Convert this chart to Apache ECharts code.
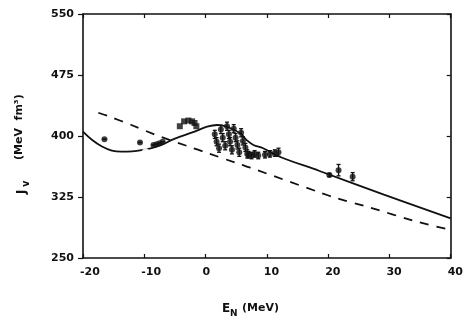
<!DOCTYPE html>
<html><head><meta charset="utf-8">
<script src="https://cdn.jsdelivr.net/npm/echarts@6/dist/echarts.min.js"></script>
<style>html,body{margin:0;padding:0;background:#fff}#c{width:466px;height:323px}</style>
</head><body><div id="c"></div>
<script>
// ---- data ----
const xTicks = [-20, -10, 0, 10, 20, 30, 40];
const yTicks = [250, 325, 400, 475, 550];

const solidX = [-20, -18.5, -16.9, -15.3, -13.7, -12, -10.5, -8.8, -7.2, -5.1, -1.9, 0.25, 1.9, 3.5, 5.7, 6.7, 7.8, 9.4, 12.1, 18.6, 29.1, 40];
const solidY = [405.3, 395, 387, 382, 380.7, 381, 382.7, 385, 389, 396.5, 405, 411.4, 413.5, 411.4, 403, 395, 389, 385, 374.5, 357, 328, 298.8];

const dashX = [-17.5, -15.9, -12.1, -8, -2.2, -0.3, 5.7, 7.3, 18.3, 21.6, 26.4, 34.5, 40];
const dashY = [428.6, 424.6, 413.5, 401, 385.6, 380.7, 365, 361, 331.5, 323, 313, 294.6, 284.4];

// filled circle points
const ptX   = [-16.5, -10.7, -8.5, -8.0, -7.5, -7.0, 1.5, 1.8, 2.2, 2.5, 2.8, 3.2, 3.5, 3.8, 4.0, 4.3, 4.6, 4.9, 5.2, 5.5, 5.8, 6.1, 6.5, 6.8, 7.0, 7.5, 8.0, 8.6, 9.7, 10.5, 11.3, 11.9, 20.2, 21.7, 24.0];
const ptY   = [396, 392, 389, 390, 391, 393, 402, 393, 385, 408, 398, 388, 412, 402, 393, 383, 409, 398, 389, 380, 404, 394, 386, 378, 377, 376, 378, 376, 377, 378, 379, 380, 352, 358, 350];
const ptErr = [0, 0, 0, 0, 0, 0, 5, 5, 5, 5, 5, 5, 5, 5, 5, 5, 5, 5, 5, 5, 5, 5, 5, 5, 4, 4, 4, 4, 4, 4, 4, 5, 2, 7, 5];
// square points
const sqX = [-4.2, -3.5, -2.8, -2.2, -1.8, -1.5];
const sqY = [412, 418, 419, 418, 416, 412];
// open point
const openX = [-9.8];
const openY = [381];

// ---- build ----
const solidData = solidX.map((x, i) => [x, solidY[i]]);
const dashData = dashX.map((x, i) => [x, dashY[i]]);
const ptData = ptX.map((x, i) => [x, ptY[i], ptErr[i]]);
const sqData = sqX.map((x, i) => [x, sqY[i]]);
const openData = openX.map((x, i) => [x, openY[i]]);

const F = 'DejaVu Sans';
const lab = {fontFamily: F, fontWeight: 'bold', fontSize: 11, color: '#111'};
const line = {lineStyle: {color: '#111', width: 1.6}};

const chart = echarts.init(document.getElementById('c'), null, {renderer: 'canvas'});
chart.setOption({
  animation: false,
  backgroundColor: '#fff',
  grid: {left: 83, right: 12, top: 14, bottom: 65},
  xAxis: [
    {type: 'value', min: -20, max: 40, interval: 10, position: 'bottom',
     axisLine: Object.assign({onZero: false}, line),
     axisTick: {inside: true, length: 4, lineStyle: {color: '#111', width: 1.2}},
     axisLabel: Object.assign({margin: 9, align: 'left', padding: [0, 0, 0, -3],
       formatter: v => String(v)}, lab),
     splitLine: {show: false}},
    {type: 'value', min: -20, max: 40, interval: 10, position: 'top',
     axisLine: Object.assign({onZero: false}, line),
     axisTick: {inside: true, length: 4, lineStyle: {color: '#111', width: 1.2}},
     axisLabel: {show: false}, splitLine: {show: false}}
  ],
  yAxis: [
    {type: 'value', min: 250, max: 550, interval: 75, position: 'left',
     axisLine: Object.assign({onZero: false}, line),
     axisTick: {inside: false, length: 5, lineStyle: {color: '#111', width: 1.2}},
     axisLabel: Object.assign({margin: 9, formatter: v => String(v)}, lab),
     splitLine: {show: false}},
    {type: 'value', min: 250, max: 550, interval: 75, position: 'right',
     axisLine: Object.assign({onZero: false}, line),
     axisTick: {inside: true, length: 4, lineStyle: {color: '#111', width: 1.2}},
     axisLabel: {show: false}, splitLine: {show: false}}
  ],
  series: [
    {type: 'line', data: solidData, smooth: 0.4, showSymbol: false,
     lineStyle: {color: '#111', width: 1.8}},
    {type: 'line', data: dashData, smooth: 0.2, showSymbol: false,
     lineStyle: {color: '#111', width: 1.8, type: [9, 8]}},
    {type: 'custom', data: ptData,
     renderItem: function (params, api) {
       const x = api.value(0), y = api.value(1), e = api.value(2);
       const t = api.coord([x, y + e]), b = api.coord([x, y - e]);
       const st = {stroke: '#111', lineWidth: 1.3};
       return {type: 'group', children: [
         {type: 'line', shape: {x1: t[0], y1: t[1], x2: b[0], y2: b[1]}, style: st},
         {type: 'line', shape: {x1: t[0] - 2, y1: t[1], x2: t[0] + 2, y2: t[1]}, style: st},
         {type: 'line', shape: {x1: b[0] - 2, y1: b[1], x2: b[0] + 2, y2: b[1]}, style: st}
       ]};
     }, z: 3},
    {type: 'scatter', data: ptData, symbol: 'circle', symbolSize: 6,
     itemStyle: {color: '#111'}, z: 4},
    {type: 'scatter', data: sqData, symbol: 'rect', symbolSize: 6,
     itemStyle: {color: '#111'}, z: 4},
    {type: 'scatter', data: openData, symbol: 'emptyCircle', symbolSize: 5,
     itemStyle: {color: '#fff', borderColor: '#111', borderWidth: 1.5}, z: 4}
  ],
  graphic: [
    {type: 'text', left: 222, top: 303,
     style: {text: 'E', font: 'bold 12px "DejaVu Sans"', fill: '#111'}},
    {type: 'text', left: 230, top: 309,
     style: {text: 'N', font: 'bold 9px "DejaVu Sans"', fill: '#111'}},
    {type: 'text', left: 242, top: 303,
     style: {text: '(MeV)', font: 'bold 11px "DejaVu Sans"', fill: '#111'}},
    {type: 'text', x: 16, y: 194, rotation: Math.PI / 2,
     style: {text: 'J', font: 'bold 12px "DejaVu Sans"', fill: '#111', align: 'left', verticalAlign: 'top'}},
    {type: 'text', x: 21, y: 187, rotation: Math.PI / 2,
     style: {text: 'v', font: 'bold 10px "DejaVu Sans"', fill: '#111', align: 'left', verticalAlign: 'top'}},
    {type: 'text', x: 14, y: 160, rotation: Math.PI / 2,
     style: {text: '(MeV  fm³)', font: 'bold 11px "DejaVu Sans"', fill: '#111', align: 'left', verticalAlign: 'top'}}
  ]
});
</script>
</body></html>
